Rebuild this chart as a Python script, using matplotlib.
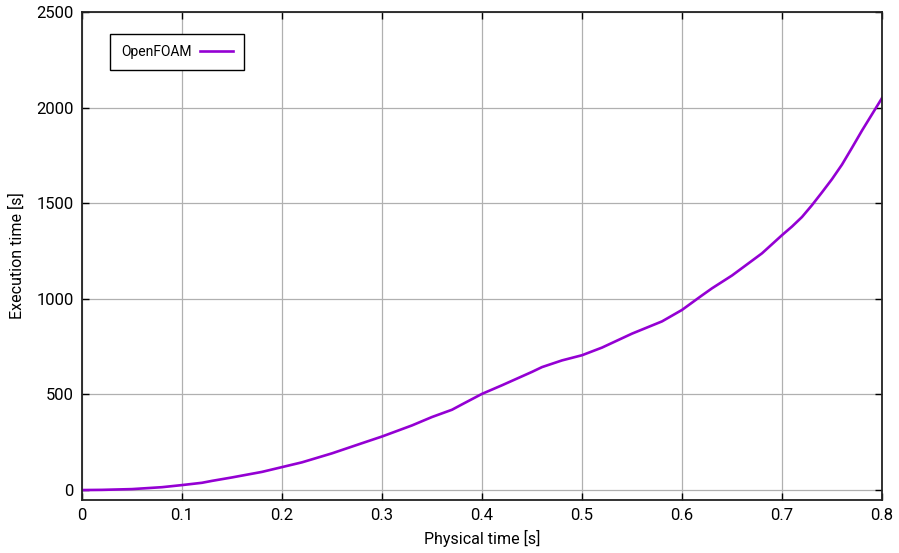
import matplotlib
matplotlib.use("Agg")
import matplotlib.pyplot as plt

# Physical time [s] vs execution time [s]
phys_time = [0.0, 0.02, 0.05, 0.08, 0.10, 0.12, 0.13, 0.15, 0.18, 0.20,
             0.22, 0.25, 0.28, 0.30, 0.33, 0.35, 0.37, 0.38, 0.40, 0.42,
             0.45, 0.46, 0.48, 0.50, 0.52, 0.55, 0.58, 0.60, 0.62, 0.63,
             0.65, 0.68, 0.70, 0.71, 0.72, 0.73, 0.74, 0.75, 0.76, 0.77,
             0.78, 0.79, 0.80]
exec_time = [0, 1, 5, 15, 26, 38, 48, 66, 95, 120,
             145, 192, 245, 280, 338, 382, 420, 448, 503, 548,
             618, 643, 678, 705, 745, 818, 882, 942, 1018, 1055,
             1122, 1238, 1333, 1378, 1428, 1490, 1557, 1626, 1702, 1790,
             1880, 1965, 2050]

x_ticks = [0, 0.1, 0.2, 0.3, 0.4, 0.5, 0.6, 0.7, 0.8]
x_labels = ["0", "0.1", "0.2", "0.3", "0.4", "0.5", "0.6", "0.7", "0.8"]
y_ticks = [0, 500, 1000, 1500, 2000, 2500]

plt.rcParams["font.family"] = ["Roboto", "DejaVu Sans"]

fig = plt.figure(figsize=(8.99, 5.53), dpi=100)
ax = fig.add_axes([82 / 899, 1 - 500 / 553, 800 / 899, 488 / 553])

ax.plot(phys_time, exec_time, color="#9400d3", lw=1.9, label="OpenFOAM",
        solid_joinstyle="round")

ax.set_xlim(0, 0.8)
ax.set_ylim(-52, 2500)
ax.set_xticks(x_ticks)
ax.set_xticklabels(x_labels)
ax.set_yticks(y_ticks)
ax.grid(True, color="#b0b0b0", lw=0.9)
ax.set_axisbelow(True)
ax.tick_params(direction="in", length=5, width=1, top=True, right=True,
               labelsize=12, pad=6, color="black")
for s in ax.spines.values():
    s.set_linewidth(1.3)
    s.set_color("#222222")

ax.set_xlabel("Physical time [s]", fontsize=11.5, labelpad=5)
ax.set_ylabel("Execution time [s]", fontsize=11.5, labelpad=8)

leg = ax.legend(loc="upper left", bbox_to_anchor=(0.035, 0.955), markerfirst=False,
                fancybox=False, framealpha=1, edgecolor="black", fontsize=10,
                handlelength=2.4, borderpad=0.8, borderaxespad=0, handletextpad=0.6)
leg.get_frame().set_linewidth(1.0)

fig.savefig("out.png", dpi=100)
